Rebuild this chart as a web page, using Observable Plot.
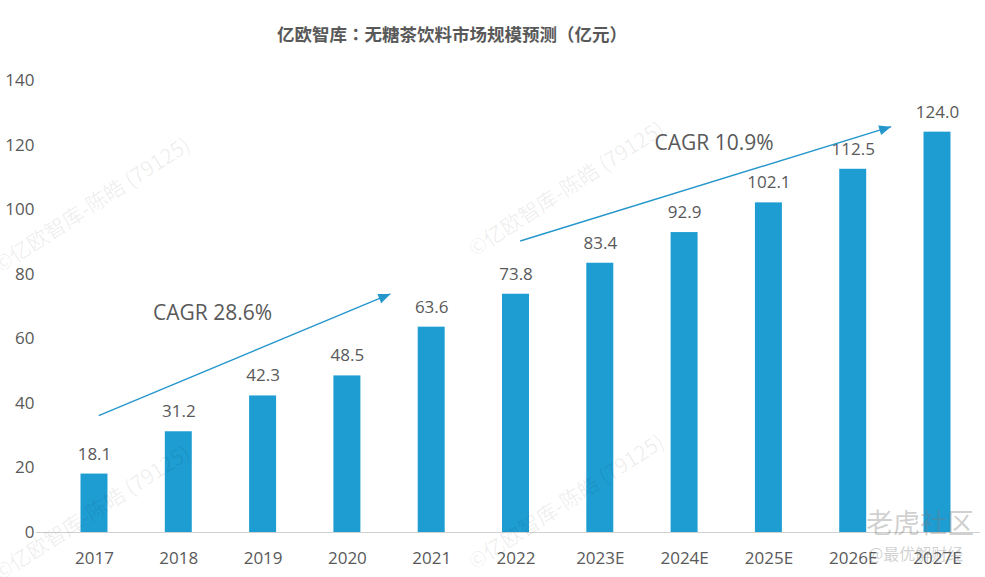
<!DOCTYPE html>
<html>
<head>
<meta charset="utf-8">
<script src="https://cdn.jsdelivr.net/npm/d3@7"></script>
<script src="https://cdn.jsdelivr.net/npm/@observablehq/plot@0.6"></script>
<style>
  html, body { margin: 0; padding: 0; background: #fff; }
  #wrap { position: relative; width: 985px; height: 577px; overflow: hidden; }
  #title { height: 62px; box-sizing: border-box; padding-left: 277px; padding-top: 21px;
           font-family: "Noto Sans CJK SC", sans-serif; font-weight: 700; font-size: 17.5px;
           color: #595959; line-height: 26px; white-space: nowrap; }
  #title .p { font-family: "Noto Sans CJK TC", "Noto Sans CJK SC", sans-serif; }
  .wm { position: absolute; font-family: "Noto Sans CJK SC", sans-serif; font-size: 21px;
        color: rgba(0,0,0,0.07); transform-origin: left bottom; transform: rotate(-33deg);
        white-space: nowrap; pointer-events: none; }
  .brand { position: absolute; font-family: "Noto Sans CJK SC", sans-serif; color: rgba(120,120,120,0.35);
           white-space: nowrap; }
</style>
</head>
<body>
<div id="wrap">
  <div id="title">亿欧智库<span class="p">：</span>无糖茶饮料市场规模预测<span class="p">（</span>亿元<span class="p">）</span></div>
  <div id="chart"></div>
  <div class="wm" style="left:4px; top:248px;">©亿欧智库-陈皓 (79125)</div>
  <div class="wm" style="left:4px; top:556px;">©亿欧智库-陈皓 (79125)</div>
  <div class="wm" style="left:478px; top:232px;">©亿欧智库-陈皓 (79125)</div>
  <div class="wm" style="left:478px; top:545px;">©亿欧智库-陈皓 (79125)</div>
  <div class="brand" style="left:866px; top:502px; font-size:27px;">老虎社区</div>
  <div class="brand" style="left:868px; top:541px; font-size:16px;">@最优解财经</div>
</div>
<script>
const years = ["2017","2018","2019","2020","2021","2022","2023E","2024E","2025E","2026E","2027E"];
const values = [18.1, 31.2, 42.3, 48.5, 63.6, 73.8, 83.4, 92.9, 102.1, 112.5, 124.0];
const yTicks = [0, 20, 40, 60, 80, 100, 120, 140];

// Growth annotations, in category-index units along x and value units along y
const cagrLabels = ["CAGR 28.6%", "CAGR 10.9%"];
const cagrPos = [1.40, 7.35];
const cagrLevel = [67.9, 120.5];
const arrowFromPos = [0.05, 5.05];
const arrowToPos = [3.51, 9.45];
const arrowFromLevel = [36.2, 90.3];
const arrowToLevel = [73.9, 125.7];

const barHalf = 0.16;
const bars = years.map((y, i) => ({i, year: y, value: values[i]}));
const arrows = arrowFromPos.map((f, i) => ({x1: f, x2: arrowToPos[i], y1: arrowFromLevel[i], y2: arrowToLevel[i]}));
const cagr = cagrLabels.map((t, i) => ({text: t, x: cagrPos[i], y: cagrLevel[i]}));

const blue = "#1e9dd3";
const arrowBlue = "#2596cc";
const grey = "#595959";
const numFont = "'Open Sans', 'Noto Sans', sans-serif";

function triangleHead(color) {
  const m = document.createElementNS("http://www.w3.org/2000/svg", "marker");
  m.setAttribute("viewBox", "-13 -6 13 12");
  m.setAttribute("markerWidth", 13);
  m.setAttribute("markerHeight", 12);
  m.setAttribute("markerUnits", "userSpaceOnUse");
  m.setAttribute("refX", 0);
  m.setAttribute("refY", 0);
  m.setAttribute("orient", "auto");
  const p = document.createElementNS("http://www.w3.org/2000/svg", "path");
  p.setAttribute("d", "M-12,-5 L0,0 L-12,5 Z");
  p.setAttribute("fill", color);
  p.setAttribute("stroke", "none");
  m.appendChild(p);
  return m;
}

const plot = Plot.plot({
  width: 985,
  height: 515,
  marginTop: 18,
  marginBottom: 45,
  marginLeft: 51,
  marginRight: 5,
  style: {fontFamily: numFont, fontSize: "17px", color: grey, background: "#fff", overflow: "visible"},
  x: {domain: [-0.51, years.length - 1 + 0.51], label: null, axis: null},
  y: {domain: [0, 140], ticks: yTicks, label: null, tickSize: 0, tickPadding: 17},
  marks: [
    Plot.rectY(bars, {x1: d => d.i - barHalf, x2: d => d.i + barHalf, y: "value", fill: blue}),
    Plot.axisX(d3.range(years.length), {tickFormat: i => years[i], tickSize: 0, tickPadding: 19,
                                        label: null, fill: grey, fontSize: 17}),
    Plot.ruleY([0], {stroke: "#d0d0d0", strokeWidth: 1.2, insetLeft: -15}),
    Plot.text(bars, {x: "i", y: "value", text: d => d.value.toFixed(1), dy: -20, fill: grey,
                     fontSize: 17, fontFamily: numFont}),
    Plot.link(arrows, {x1: "x1", y1: "y1", x2: "x2", y2: "y2", stroke: arrowBlue,
                       strokeWidth: 1.4, markerEnd: triangleHead}),
    Plot.text(cagr, {x: "x", y: "y", text: "text", fill: grey, fontSize: 21, fontFamily: numFont})
  ]
});
document.getElementById("chart").appendChild(plot);
</script>
</body>
</html>
